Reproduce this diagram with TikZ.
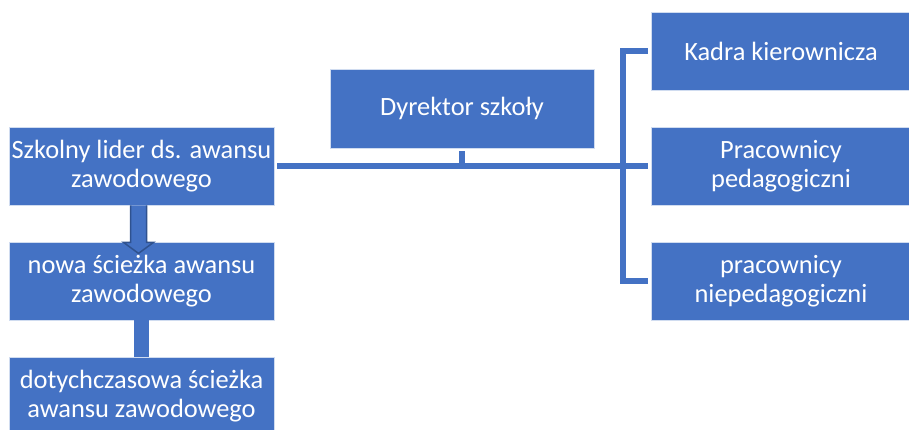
\documentclass[tikz,border=0pt]{standalone}
\usepackage{fontspec}
\setmainfont{Carlito}
\usetikzlibrary{calc}
\definecolor{blu}{HTML}{4472C4}
\definecolor{blud}{HTML}{2F528F}
\begin{document}
\begin{tikzpicture}[x=1pt,y=-1pt,
  box/.style={draw=white!75!blu, line width=0.8pt, fill=blu, text=white, align=center,
    font=\fontsize{26.4}{29}\selectfont, inner sep=0pt, minimum height=78pt},
  lbox/.style={box, minimum width=265pt},
  rbox/.style={box, minimum width=260pt},
  conn/.style={draw=blu, line width=6pt, line join=miter},
  blockarrow/.style={fill=blu, draw=blud, line width=1.5pt, line join=miter}]
\useasboundingbox (0,0) rectangle (909,430);
\node[lbox] (lid) at (141.5,166) {Szkolny lider ds. awansu\\zawodowego};
\node[lbox] (nowa) at (141.5,281) {nowa ścieżka awansu\\zawodowego};
\node[lbox] (dot) at (141.5,396) {dotychczasowa ścieżka\\awansu zawodowego};
\node[box, minimum width=264pt, minimum height=79pt] (dyr) at (462,108.5) {Dyrektor szkoły};
\node[rbox] (kad) at (781,51.5) {Kadra kierownicza};
\node[rbox] (prac) at (781,166) {Pracownicy\\pedagogiczni};
\node[rbox] (nie) at (781,281) {pracownicy\\niepedagogiczni};
\coordinate (bx) at (622.5,166);
% connectors
\draw[conn, shorten <=3pt, shorten >=3pt] (lid.east) -- (prac.west);
\draw[conn, shorten <=3pt] (dyr.south) -- (dyr.south |- lid.east);
\draw[conn] ([xshift=-3pt]kad.west) -| (bx) |- ([xshift=-3pt]nie.west);
\draw[draw=blu, line width=15pt] (nowa.south) -- (dot.north);
% block arrow
\draw[blockarrow] ($(lid.south)+(-11,0)$) -- ($(lid.south)+(-11,37)$)
  -- ($(lid.south)+(-18,37)$) -- ($(lid.south)+(-3,48)$)
  -- ($(lid.south)+(12,37)$) -- ($(lid.south)+(5,37)$)
  -- ($(lid.south)+(5,0)$);
\end{tikzpicture}
\end{document}
